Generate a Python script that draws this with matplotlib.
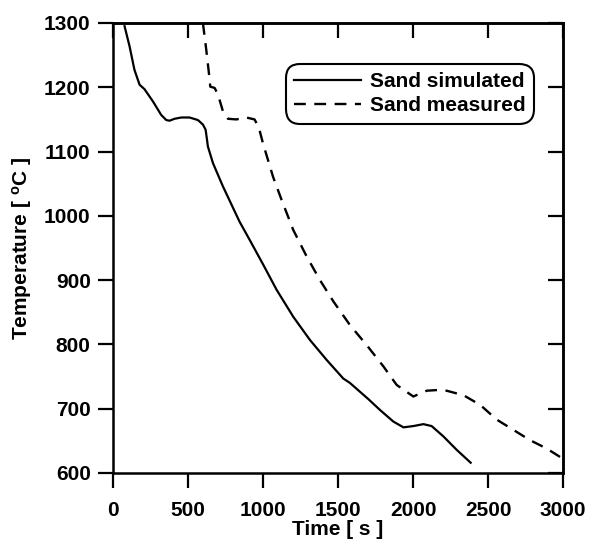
import matplotlib
matplotlib.use("Agg")
import matplotlib.pyplot as plt

plt.rcParams["font.family"] = ["Liberation Sans", "DejaVu Sans"]
plt.rcParams["font.weight"] = "bold"
plt.rcParams["mathtext.fontset"] = "custom"
plt.rcParams["mathtext.rm"] = "Liberation Sans:bold"
plt.rcParams["mathtext.bf"] = "Liberation Sans:bold"
plt.rcParams["mathtext.default"] = "bf"

# simulated sand temperature (time s, temperature C)
sim_t = [78, 111, 144, 178, 211, 267, 322, 356, 378, 411, 456, 511, 567, 600,
         618, 627, 633, 667, 733, 844, 913, 1002, 1091, 1202, 1313, 1424, 1535,
         1580, 1702, 1780, 1869, 1936, 2002, 2069, 2124, 2202, 2291, 2384]
sim_T = [1295, 1264, 1227, 1204, 1197, 1178, 1157, 1149, 1148, 1151, 1153, 1153,
         1149, 1142, 1134, 1119, 1108, 1082, 1046, 991, 962, 924, 885, 843, 807,
         776, 747, 740, 715, 698, 680, 671, 673, 676, 673, 657, 636, 616]

# measured sand temperature
meas_t = [600, 622, 640, 649, 678, 700, 733, 767, 822, 889, 944, 973, 1000, 1067,
          1124, 1202, 1291, 1380, 1469, 1580, 1691, 1802, 1891, 2002, 2091, 2160,
          2224, 2336, 2447, 2558, 2669, 2780, 2891, 3000]
meas_T = [1300, 1259, 1222, 1201, 1199, 1189, 1163, 1151, 1150, 1153, 1150, 1137,
          1113, 1061, 1025, 978, 937, 900, 867, 830, 799, 766, 737, 719, 728, 729,
          728, 721, 706, 683, 667, 651, 638, 622]

fig = plt.figure(figsize=(5.94, 5.41), dpi=100)
ax = fig.add_axes([0.190, 0.1257, 0.758, 0.8318])

ax.plot(sim_t, sim_T, color="black", lw=1.6, label="Sand simulated")
ax.plot(meas_t, meas_T, color="black", lw=1.7, ls=(0, (5, 3.6)),
        label="Sand measured")

ax.set_xlim(0, 3000)
ax.set_ylim(600, 1300)
ax.set_xticks(range(0, 3001, 500))
ax.set_yticks(range(600, 1301, 100))

for s in ax.spines.values():
    s.set_linewidth(1.8)

ax.tick_params(axis="both", which="major", direction="out", length=11, width=1.6,
               labelsize=15, top=False, right=False)
ax.tick_params(axis="x", pad=9)
ax.tick_params(axis="y", pad=5)
for lab in ax.get_xticklabels() + ax.get_yticklabels():
    lab.set_fontweight("bold")

# inward ticks on top and right
axt = ax.secondary_xaxis("top")
axt.set_xticks(range(0, 3001, 500))
axt.tick_params(direction="in", length=11, width=1.6, labeltop=False)
axr = ax.secondary_yaxis("right")
axr.set_yticks(range(600, 1301, 100))
axr.tick_params(direction="in", length=11, width=1.6, labelright=False)
axt.spines["top"].set_linewidth(1.8)
axr.spines["right"].set_linewidth(1.8)

ax.set_xlabel("Time [ s ]", fontsize=15, fontweight="bold", labelpad=0)
ax.set_ylabel("Temperature [ $^{o}$C ]", fontsize=15, fontweight="bold",
              labelpad=7)

leg = ax.legend(loc="upper right", bbox_to_anchor=(0.925, 0.9), fontsize=15,
                frameon=True, fancybox=True, edgecolor="black", framealpha=1,
                handlelength=3.2, handletextpad=0.43, borderpad=0.2,
                labelspacing=0.25, borderaxespad=0.0)
leg.get_frame().set_linewidth(1.5)
leg.get_frame().set_boxstyle("round,pad=0.2,rounding_size=0.7")
for t in leg.get_texts():
    t.set_fontweight("bold")

fig.savefig("out.png", dpi=100)
